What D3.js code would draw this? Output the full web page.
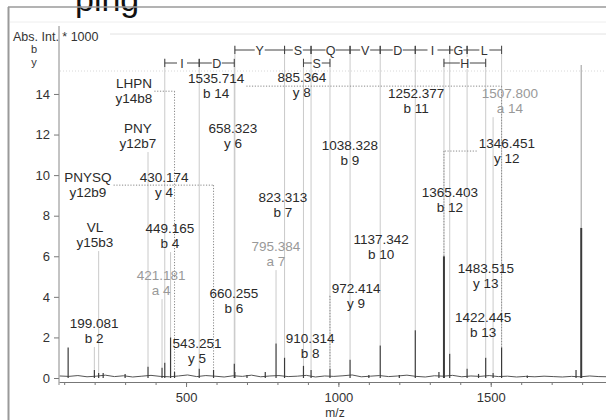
<!DOCTYPE html>
<html><head><meta charset="utf-8">
<script src="https://cdn.jsdelivr.net/npm/d3@7"></script>
<style>
html,body{margin:0;padding:0;background:#fff;overflow:hidden}
svg{display:block;font-family:"Liberation Sans",Arial,sans-serif}
</style></head><body>
<svg id="c" width="606" height="420"></svg>
<script>
// ---------- data ----------
const ionMz    = [199.081, 421.181, 430.174, 449.165, 543.251, 658.323, 660.255, 795.384, 823.313, 885.364, 910.314, 972.414, 1038.328, 1137.342, 1252.377, 1346.451, 1365.403, 1422.445, 1483.515, 1507.800, 1535.714];
const ionName  = ["b 2","a 4","y 4","b 4","y 5","y 6","b 6","a 7","b 7","y 8","b 8","y 9","b 9","b 10","b 11","y 12","b 12","b 13","y 13","a 14","b 14"];
const ionInt   = [0.4, 0.5, 0.75, 2.0, 0.45, 0.7, 0.3, 1.7, 1.0, 0.6, 0.4, 0.45, 0.9, 1.6, 2.35, 6.0, 1.2, 0.45, 1.0, 0.25, 1.5];
const ionLabelMz  = [198, 418, 428, 447, 536, 654, 657, 795, 818, 880, 907, 1058, 1038, 1140, 1255, 1553, 1366, 1475, 1484, 1563, 599];
const ionLabelInt = [2.71, 5.07, 9.90, 7.39, 1.72, 12.32, 4.19, 6.50, 8.92, 14.83, 1.97, 4.43, 11.48, 6.85, 14.04, 11.58, 9.16, 3.00, 5.42, 14.04, 14.78];

const fragSeq  = ["LHPN","PNY","PNYSQ","VL"];
const fragName = ["y14b8","y12b7","y12b9","y15b3"];
const fragMz   = [462.246, 375.166, 590.257, 213.159];
const fragInt  = [0.3, 0.55, 0.4, 0.25];
const fragLabelMz  = [329, 342, 178, 201];
const fragLabelInt = [14.53, 12.32, 9.90, 7.44];

const otherMz  = [113, 228, 300, 700, 760, 1100, 1200, 1330, 1460, 1620, 1780, 1797];
const otherInt = [1.5, 0.25, 0.2, 0.15, 0.3, 0.15, 0.15, 0.3, 0.2, 0.12, 0.4, 7.4];
const precursorMz = 1797;

const noiseMz  = [85,115,145,175,205,235,265,295,325,355,385,415,445,475,505,535,565,595,625,655,685,715,745,775,805,835,865,895,925,955,985,1015,1045,1075,1105,1135,1165,1195,1225,1255,1285,1315,1345,1375,1405,1435,1465,1495,1525,1555,1585,1615,1645,1675,1705,1735,1765,1795,1825,1855,1885];
const noiseInt = [0.10,0.08,0.12,0.06,0.09,0.14,0.07,0.11,0.05,0.09,0.13,0.08,0.06,0.10,0.15,0.07,0.12,0.09,0.05,0.11,0.08,0.14,0.06,0.10,0.12,0.07,0.09,0.13,0.05,0.10,0.08,0.11,0.15,0.06,0.09,0.12,0.07,0.10,0.14,0.08,0.05,0.11,0.09,0.13,0.06,0.10,0.08,0.12,0.07,0.09,0.05,0.08,0.06,0.09,0.07,0.05,0.08,0.06,0.10,0.07,0.06];

const bLadderMz = [660.255, 823.313, 910.314, 1038.328, 1137.342, 1252.377, 1365.403, 1422.445, 1535.714];
const bLadderAA = ["Y","S","Q","V","D","I","G","L"];
const yLadderFrom = [430.174, 543.251, 885.364, 1346.451];
const yLadderTo   = [543.251, 658.323, 972.414, 1483.515];
const yLadderAA   = ["I","D","S","H"];

const xTickValues = [500, 1000, 1500];
const xMinorTicks = [100,200,300,400,500,600,700,800,900,1000,1100,1200,1300,1400,1500,1600,1700,1800];
const yTickValues = [0, 2, 4, 6, 8, 10, 12, 14];

// ---------- drawing ----------
const svg = d3.select("#c");
const x = d3.scaleLinear().domain([83, 1880]).range([59, 606.5]);
const y = d3.scaleLinear().domain([0, 17.3]).range([378, 27]);
const fmt = d3.format(".3f");
const bRow = 50, yRow = 63;

// header text & frame
svg.append("text").attr("x", 75).attr("y", 11).attr("font-size", 34).attr("fill", "#111").text("ping");
svg.append("line").attr("x1", 8).attr("x2", 606).attr("y1", 7).attr("y2", 7).attr("stroke", "#9a9a9a").attr("stroke-width", 1.5);
svg.append("line").attr("x1", 8.5).attr("x2", 8.5).attr("y1", 7).attr("y2", 420).attr("stroke", "#9a9a9a").attr("stroke-width", 2);
svg.append("line").attr("x1", 10).attr("x2", 606).attr("y1", 22).attr("y2", 22).attr("stroke", "#eee");
svg.append("line").attr("x1", 110).attr("x2", 606).attr("y1", 34).attr("y2", 34).attr("stroke", "#e2e2e2");
svg.append("line").attr("x1", 60).attr("x2", 606).attr("y1", 71).attr("y2", 71).attr("stroke", "#d8d8d8").attr("stroke-dasharray", "1,2");

svg.append("text").attr("x", 13).attr("y", 41).attr("font-size", 12.5).attr("fill", "#333").text("Abs. Int. * 1000");
svg.append("text").attr("x", 34).attr("y", bRow + 3).attr("text-anchor", "middle").attr("font-size", 11).attr("fill", "#333").text("b");
svg.append("text").attr("x", 34).attr("y", yRow + 3).attr("text-anchor", "middle").attr("font-size", 11).attr("fill", "#333").text("y");

const ann = svg.append("g");
const lightLine = "#c4c4c4";

// ladder vertical lines (behind everything)
bLadderMz.forEach((mz, i) => {
  const ii = ionMz.indexOf(mz);
  ann.append("line").attr("x1", x(mz)).attr("x2", x(mz)).attr("y1", bRow - 5).attr("y2", y(ionInt[ii]))
    .attr("stroke", lightLine).attr("stroke-width", 0.9);
});
const yIons = Array.from(new Set(yLadderFrom.concat(yLadderTo)));
yIons.forEach(mz => {
  const ii = ionMz.indexOf(mz);
  ann.append("line").attr("x1", x(mz)).attr("x2", x(mz)).attr("y1", yRow - 5).attr("y2", y(ionInt[ii]))
    .attr("stroke", lightLine).attr("stroke-width", 0.9);
});
ann.append("line").attr("x1", x(precursorMz)).attr("x2", x(precursorMz)).attr("y1", yRow + 2)
  .attr("y2", y(otherInt[otherMz.indexOf(precursorMz)])).attr("stroke", "#aaa").attr("stroke-width", 1.2);

// ladder segments
function segment(x1, x2, ry, aa) {
  const g = svg.append("g");
  g.append("line").attr("x1", x1).attr("x2", x2).attr("y1", ry).attr("y2", ry).attr("stroke", "#444").attr("stroke-width", 1);
  g.append("line").attr("x1", x1).attr("x2", x1).attr("y1", ry - 4).attr("y2", ry + 4).attr("stroke", "#444");
  g.append("line").attr("x1", x2).attr("x2", x2).attr("y1", ry - 4).attr("y2", ry + 4).attr("stroke", "#444");
  const cx = (x1 + x2) / 2;
  g.append("rect").attr("x", cx - 5).attr("y", ry - 6).attr("width", 10).attr("height", 12).attr("fill", "#fff");
  g.append("text").attr("x", cx).attr("y", ry + 4.5).attr("text-anchor", "middle").attr("font-size", 12.5).attr("fill", "#333").text(aa);
}
bLadderAA.forEach((aa, i) => segment(x(bLadderMz[i]), x(bLadderMz[i + 1]), bRow, aa));
yLadderAA.forEach((aa, i) => segment(x(yLadderFrom[i]), x(yLadderTo[i]), yRow, aa));

// labels with leaders
function label(line1, line2, mz, pk, lmz, lint, color, inLadder) {
  const lx = x(lmz), ly = y(lint), ix = x(mz), py = y(pk);
  const g = svg.append("g").attr("fill", color).attr("font-size", 13.5).attr("text-anchor", "middle");
  const t1 = g.append("text").attr("x", lx).attr("y", ly + 5).text(line1);
  const t2 = g.append("text").attr("x", lx).attr("y", ly + 20).text(line2);
  const hw = Math.max(t1.node().getComputedTextLength(), t2.node().getComputedTextLength()) / 2;
  if (Math.abs(ix - lx) <= hw + 1) {
    if (!inLadder) ann.append("line").attr("x1", ix).attr("x2", ix).attr("y1", ly + 24).attr("y2", py)
      .attr("stroke", lightLine).attr("stroke-width", 0.9);
  } else {
    const my = ly + 8;
    const ex = ix > lx ? lx + hw + 2 : lx - hw - 2;
    ann.append("line").attr("x1", ex).attr("x2", ix).attr("y1", my).attr("y2", my)
      .attr("stroke", "#888").attr("stroke-dasharray", "1.2,1.6");
    ann.append("line").attr("x1", ix).attr("x2", ix).attr("y1", my).attr("y2", py)
      .attr("stroke", "#888").attr("stroke-dasharray", "1.2,1.6");
  }
}
const ladderSet = new Set(bLadderMz.concat(yIons));
ionMz.forEach((mz, i) => {
  const grey = ionName[i].startsWith("a");
  label(fmt(mz), ionName[i], mz, ionInt[i], ionLabelMz[i], ionLabelInt[i], grey ? "#999" : "#2a2a2a", ladderSet.has(mz));
});
fragSeq.forEach((s, i) => label(s, fragName[i], fragMz[i], fragInt[i], fragLabelMz[i], fragLabelInt[i], "#2a2a2a", false));

// noise baseline
svg.append("path").datum(noiseMz.map((m, i) => [m, noiseInt[i]]))
  .attr("d", d3.line().x(d => x(d[0])).y(d => y(d[1])))
  .attr("fill", "none").attr("stroke", "#555").attr("stroke-width", 1);

// peaks
const peaks = ionMz.map((m, i) => [m, ionInt[i]])
  .concat(fragMz.map((m, i) => [m, fragInt[i]]))
  .concat(otherMz.map((m, i) => [m, otherInt[i]]));
svg.append("g").selectAll("line").data(peaks).join("line")
  .attr("x1", d => x(d[0])).attr("x2", d => x(d[0]))
  .attr("y1", y(0)).attr("y2", d => y(d[1]))
  .attr("stroke", "#3a3a3a").attr("stroke-width", d => d[1] > 4 ? 2 : 1.2);

// axes
const xAxisY = 382;
svg.append("g").attr("transform", `translate(0,${xAxisY})`)
  .call(d3.axisBottom(x).tickValues(xMinorTicks).tickSize(3).tickFormat("").tickSizeOuter(0))
  .call(g => g.select(".domain").remove())
  .call(g => g.selectAll("line").attr("stroke", "#777"));
svg.append("g").attr("transform", `translate(0,${xAxisY})`)
  .call(d3.axisBottom(x).tickValues(xTickValues).tickFormat(d3.format("d")).tickSize(5).tickPadding(6).tickSizeOuter(0))
  .call(g => g.select(".domain").attr("stroke", "#777"))
  .call(g => g.selectAll("line").attr("stroke", "#777"))
  .call(g => g.selectAll("text").attr("font-size", 13).attr("fill", "#333").attr("font-family", "Liberation Sans, Arial, sans-serif"));
svg.append("g").attr("transform", `translate(59,0)`)
  .call(d3.axisLeft(y).tickValues(yTickValues).tickSize(5).tickPadding(4).tickSizeOuter(0))
  .call(g => g.select(".domain").remove())
  .call(g => g.selectAll("line").attr("stroke", "#777"))
  .call(g => g.selectAll("text").attr("font-size", 13).attr("fill", "#333").attr("font-family", "Liberation Sans, Arial, sans-serif"));
svg.append("line").attr("x1", 59).attr("x2", 59).attr("y1", 26).attr("y2", xAxisY + 3).attr("stroke", "#888");
svg.append("text").attr("x", 335).attr("y", 417).attr("text-anchor", "middle").attr("font-size", 12).attr("fill", "#333").text("m/z");
</script></body></html>
